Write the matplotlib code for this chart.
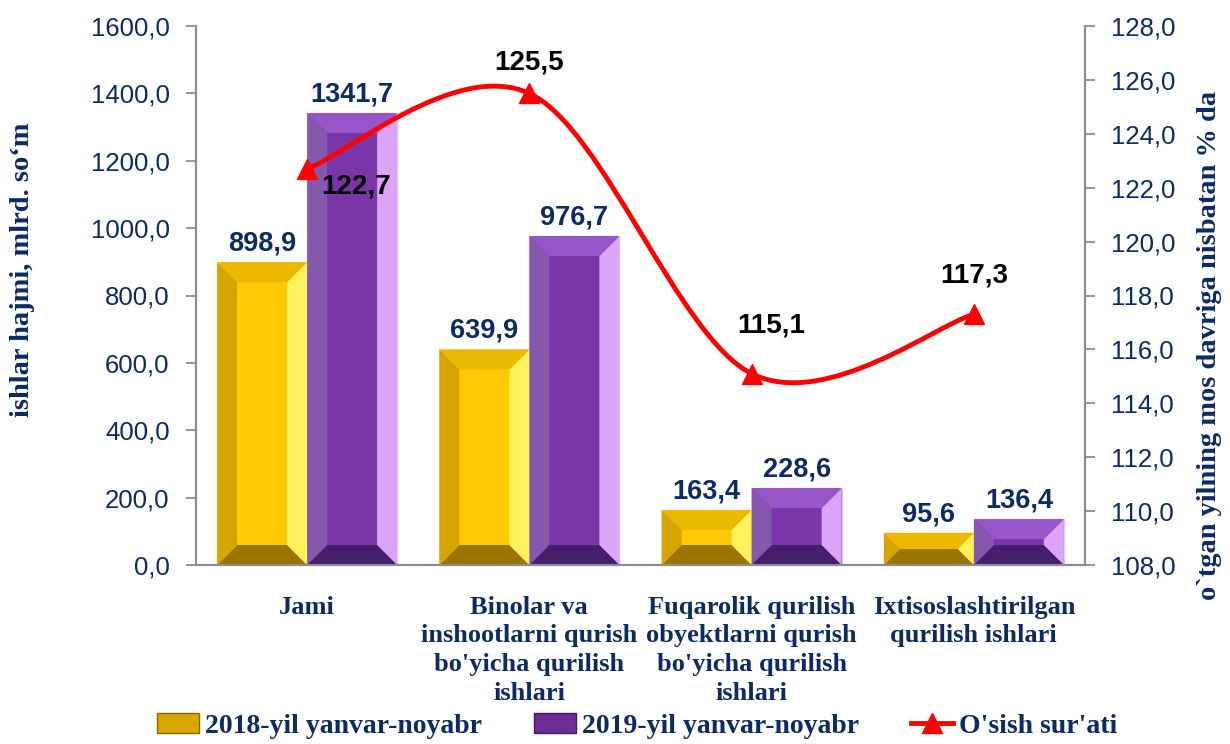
import matplotlib
matplotlib.use('Agg')
import numpy as np
from matplotlib import pyplot as plt
from matplotlib.patches import Polygon, Patch
from matplotlib.path import Path
from matplotlib.patches import PathPatch
from matplotlib.lines import Line2D
from matplotlib.ticker import FuncFormatter, MultipleLocator

# data
categories = ["Jami",
              "Binolar va\ninshootlarni qurish\nbo'yicha qurilish\nishlari",
              "Fuqarolik qurilish\nobyektlarni qurish\nbo'yicha qurilish\nishlari",
              "Ixtisoslashtirilgan\nqurilish ishlari"]
vals_2018 = [898.9, 639.9, 163.4, 95.6]
vals_2019 = [1341.7, 976.7, 228.6, 136.4]
growth = [122.7, 125.5, 115.1, 117.3]
series_names = ["2018-yil yanvar-noyabr", "2019-yil yanvar-noyabr", "O'sish sur'ati"]

NAVY = '#0B2A66'
SERIF = 'Liberation Serif'
SANS = 'Liberation Sans'

# colours for bevel facets: face, top, bottom, left, right
GOLD = dict(face='#FFC905', top='#EDB800', bottom='#9C7400', left='#D8A400', right='#FFF25A')
PURPLE = dict(face='#7A36A8', top='#9655C8', bottom='#45206A', left='#8558AE', right='#DBA4F7')


def fmt(v):
    return f"{v:.1f}".replace('.', ',')


def bevel_bar(ax, x0, w, h, cols):
    # draws a bevelled rectangle on top of a plain bar
    T = ax.transData
    px0, py0 = T.transform((x0, 0))
    px1, py1 = T.transform((x0 + w, h))
    d = min(20, (py1 - py0) / 2, (px1 - px0) / 2)
    A, B, C, D = (px0, py0), (px1, py0), (px1, py1), (px0, py1)
    a, b, c, dd = (px0 + d, py0 + d), (px1 - d, py0 + d), (px1 - d, py1 - d), (px0 + d, py1 - d)
    inv = T.inverted()
    facets = [([a, b, c, dd], cols['face']),
              ([A, B, b, a], cols['bottom']),
              ([B, C, c, b], cols['right']),
              ([C, D, dd, c], cols['top']),
              ([D, A, a, dd], cols['left'])]
    for pts, col in facets:
        ax.add_patch(Polygon(inv.transform(pts), closed=True, facecolor=col,
                             edgecolor='none', zorder=3))


fig = plt.figure(figsize=(12.3, 7.44), dpi=100)
ax = fig.add_axes([196 / 1230, 1 - 565 / 744, (1085 - 196) / 1230, (565 - 26) / 744])
ax2 = ax.twinx()

x = np.arange(len(categories))
bw = 0.405
ax.set_xlim(-0.5, len(categories) - 0.5)
ax.set_ylim(0, 1600)
ax2.set_ylim(108, 128)

ax.bar(x - bw / 2, vals_2018, bw, color=GOLD['face'], edgecolor='#EDE6C8', linewidth=1, zorder=2)
ax.bar(x + bw / 2, vals_2019, bw, color=PURPLE['face'], edgecolor='#D8CCE6', linewidth=1, zorder=2)
for i in range(len(categories)):
    bevel_bar(ax, x[i] - bw, bw, vals_2018[i], GOLD)
    bevel_bar(ax, x[i], bw, vals_2019[i], PURPLE)
    ax.annotate(fmt(vals_2018[i]), (x[i] - bw / 2, vals_2018[i]), xytext=(0, 4),
                textcoords='offset points', ha='center', va='bottom',
                fontsize=19.5, fontweight='bold', family=SANS, color=NAVY)
    ax.annotate(fmt(vals_2019[i]), (x[i] + bw / 2, vals_2019[i]), xytext=(0, 4),
                textcoords='offset points', ha='center', va='bottom',
                fontsize=19.5, fontweight='bold', family=SANS, color=NAVY)

# smooth line (excel style bezier)
pts = np.column_stack([x, growth]).astype(float)
verts = [pts[0]]
codes = [Path.MOVETO]
n = len(pts)
for i in range(n - 1):
    p_prev = pts[max(i - 1, 0)]
    p_next2 = pts[min(i + 2, n - 1)]
    c1 = pts[i] + (pts[i + 1] - p_prev) / 6
    c2 = pts[i + 1] - (p_next2 - pts[i]) / 6
    verts += [c1, c2, pts[i + 1]]
    codes += [Path.CURVE4] * 3
ax2.add_patch(PathPatch(Path(verts, codes), facecolor='none', edgecolor='#FF0000',
                        linewidth=3.5, zorder=4))
ax2.plot(x, growth, linestyle='none', marker='^', markersize=14, color='#FF0000', zorder=5)

label_offsets = [(35, -13), (0, 22), (14, 35), (0, 28)]
for i, v in enumerate(growth):
    ax2.annotate(fmt(v), (x[i], v), xytext=label_offsets[i], textcoords='offset points',
                 ha='center', va='center', fontsize=20, fontweight='bold', family=SANS,
                 color='black', zorder=6)

# axes styling
for a in (ax, ax2):
    a.spines['top'].set_visible(False)
    for s in ('left', 'right', 'bottom'):
        a.spines[s].set_color('#8C8C8C')
        a.spines[s].set_linewidth(1.5)
ax.yaxis.set_major_locator(MultipleLocator(200))
ax2.yaxis.set_major_locator(MultipleLocator(2))
ax.yaxis.set_major_formatter(FuncFormatter(lambda v, p: fmt(v)))
ax2.yaxis.set_major_formatter(FuncFormatter(lambda v, p: fmt(v)))
for a in (ax, ax2):
    a.tick_params(axis='y', direction='out', length=7, width=1.3, color='#8C8C8C',
                  labelsize=18.5, labelcolor=NAVY, pad=12)
    for t in a.get_yticklabels():
        t.set_family(SANS)

ax.set_xticks(x)
ax.set_xticklabels(categories, fontsize=19, fontweight='bold', family=SERIF,
                   color=NAVY, linespacing=1.33)
ax.tick_params(axis='x', length=0, pad=22)
ax2.tick_params(axis='x', length=0)

fig.text(23 / 1230, 1 - 270 / 744, "ishlar hajmi, mlrd. so\u2018m", rotation=90,
         ha='center', va='center', fontsize=20.5, fontweight='bold', family=SERIF, color=NAVY)
fig.text(1210 / 1230, 1 - 345 / 744, "o`tgan yilning mos davriga nisbatan % da", rotation=90,
         ha='center', va='center', fontsize=20.5, fontweight='bold', family=SERIF, color=NAVY)

handles = [Patch(facecolor='#D9A800', edgecolor='#8A6A00'),
           Patch(facecolor='#6A2E96', edgecolor='#3F1A60'),
           Line2D([0], [0], color='#FF0000', linewidth=3.5, marker='^', markersize=14)]
fig.legend(handles, series_names, loc='center', bbox_to_anchor=(0.518, 0.024), ncol=3,
           frameon=False, prop={'family': SERIF, 'weight': 'bold', 'size': 20},
           labelcolor=NAVY, columnspacing=1.9, handlelength=1.5, handletextpad=0.2)

fig.savefig('out.png', dpi=100)
